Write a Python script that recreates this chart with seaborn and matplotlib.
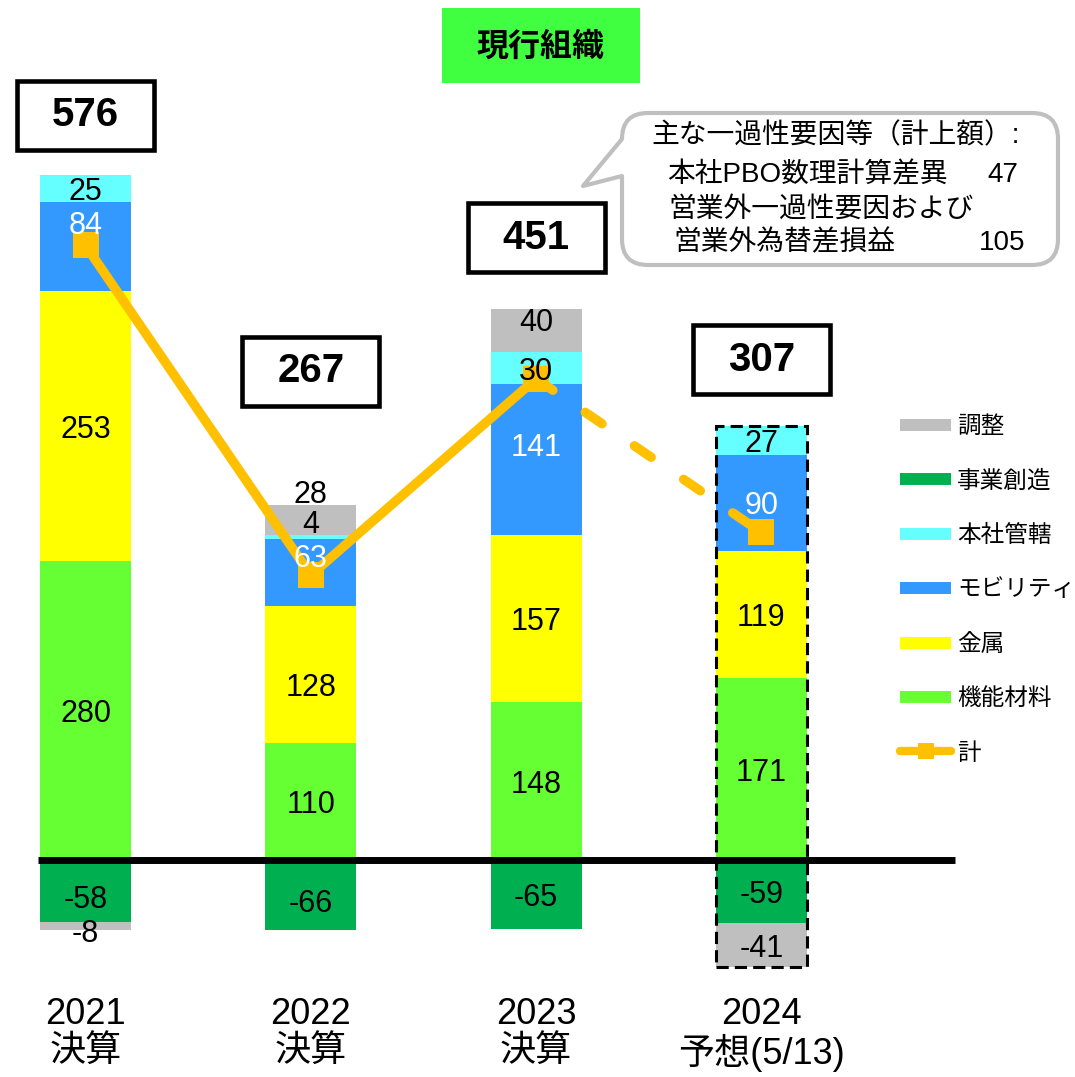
import numpy as np
import pandas as pd
import matplotlib
matplotlib.use("Agg")
import matplotlib.pyplot as plt
import seaborn as sns
from matplotlib.patches import Rectangle, PathPatch
from matplotlib.path import Path
from matplotlib.lines import Line2D

# ---- data -------------------------------------------------------------
years = ["2021\n決算", "2022\n決算", "2023\n決算", "2024\n予想(5/13)"]
functional_materials = [280, 110, 148, 171]   # 機能材料
metals = [253, 128, 157, 119]                 # 金属
mobility = [84, 63, 141, 90]                  # モビリティ
headquarters = [25, 4, 30, 27]                # 本社管轄
new_business = [-58, -66, -65, -59]           # 事業創造
adjustment = [-8, 28, 40, -41]                # 調整
totals = [576, 267, 451, 307]                 # 計

series = [
    ("機能材料", functional_materials, "#66FF33", "black"),
    ("金属", metals, "#FFFF00", "black"),
    ("モビリティ", mobility, "#3399FF", "white"),
    ("本社管轄", headquarters, "#66FFFF", "black"),
    ("事業創造", new_business, "#00B050", "black"),
    ("調整", adjustment, "#BFBFBF", "black"),
]
legend_order = ["調整", "事業創造", "本社管轄", "モビリティ", "金属", "機能材料"]
total_color = "#FFC000"

note_title = "主な一過性要因等（計上額）:"
note_items = [("本社PBO数理計算差異", "47"),
              ("営業外一過性要因および", ""),
              ("営業外為替差損益", "105")]

# ---- style ------------------------------------------------------------
sns.set_theme(style="white")
plt.rcParams["font.family"] = ["Liberation Sans", "Noto Sans CJK JP", "DejaVu Sans"]
plt.rcParams["text.color"] = "black"
plt.rcParams["xtick.color"] = "black"

W, H = 1075, 1077
fig = plt.figure(figsize=(W / 100, H / 100), dpi=100)
ax = fig.add_axes([0, 92 / H, 1, 985 / H])


def fp(x, y):
    """pixel position (from top-left) -> figure fraction"""
    return (x / W, 1 - y / H)


# ---- stacked bars -----------------------------------------------------
n = len(years)
pos_cum = np.zeros(n)
neg_cum = np.zeros(n)
bar_w = 0.404
label_nudge = {("モビリティ", 0): 23, ("調整", 1): 27, ("本社管轄", 1): 14,
               ("モビリティ", 1): 16, ("調整", 2): 11, ("モビリティ", 2): 14,
               ("事業創造", 0): -5, ("事業創造", 1): -5, ("調整", 0): -4,
               ("金属", 1): -9}
labels_to_draw = []
for name, vals, col, tcol in series:
    vals = np.asarray(vals, dtype=float)
    bottoms = np.where(vals >= 0, pos_cum, neg_cum)
    df = pd.DataFrame({"year": years, "value": vals})
    sns.barplot(data=df, x="year", y="value", color=col, saturation=1,
                width=bar_w, errorbar=None, bottom=bottoms, linewidth=0,
                ax=ax, zorder=1)
    for i, v in enumerate(vals):
        yc = bottoms[i] + v / 2 + label_nudge.get((name, i), 0) - 3.5
        labels_to_draw.append((i, yc, f"{int(v)}", tcol))
    pos_cum = np.where(vals >= 0, pos_cum + vals, pos_cum)
    neg_cum = np.where(vals < 0, neg_cum + vals, neg_cum)

for i, yc, txt, tcol in labels_to_draw:
    ax.text(i, yc, txt, ha="center", va="center", fontsize=22, color=tcol,
            zorder=6)

# zero line
ax.hlines(0, -0.211, 3.859, color="black", lw=5, zorder=4)

# forecast bar outline
ax.add_patch(Rectangle((3 - bar_w / 2, neg_cum[3]), bar_w, pos_cum[3] - neg_cum[3],
                       fill=False, edgecolor="black", lw=2.2,
                       linestyle=(0, (4, 2)), zorder=4.5))

# ---- total line -------------------------------------------------------
xs = np.arange(n)
sns.lineplot(x=xs[:3], y=totals[:3], color=total_color, lw=6.8, sort=False,
             estimator=None, solid_capstyle="round", ax=ax, zorder=3)
sns.lineplot(x=xs[2:], y=totals[2:], color=total_color, lw=6.8, sort=False,
             estimator=None, linestyle=(0, (2.15, 4.15)),
             dash_capstyle="round", ax=ax, zorder=3)
ax.plot(xs, totals, ls="none", marker="s", ms=19.4, mew=0, color=total_color,
        zorder=3.5)

# total boxes
box_lift = [56, 125, 67, 62]
bw, bh = 137 / 225.3, 69 / 1.067
for i in range(n):
    yc = pos_cum[i] + box_lift[i]
    ax.add_patch(Rectangle((i - bw / 2, yc - bh / 2), bw, bh, facecolor="white",
                           edgecolor="black", lw=3.3, zorder=7, clip_on=False))
    ax.text(i, yc, f"{totals[i]}", ha="center", va="center", fontsize=29,
            fontweight="bold", zorder=8)

# ---- axes -------------------------------------------------------------
ax.set_xlim(-85.5 / 225.3, (W - 85.5) / 225.3)
ax.set_ylim(-125 / 1.067, 860 / 1.067)
ax.set_xticks(range(n))
ax.set_xticklabels(years, fontsize=26, linespacing=1.05)
ax.tick_params(axis="x", length=0, pad=9)
ax.set_yticks([])
ax.set_xlabel("")
ax.set_ylabel("")
for s in ax.spines.values():
    s.set_visible(False)
ax.patch.set_alpha(0)

# ---- legend -----------------------------------------------------------
colors = {name: col for name, _, col, _ in series}
handles = [Line2D([], [], color=colors[nm], lw=8.6, solid_capstyle="butt")
           for nm in legend_order]
handles.append(Line2D([], [], color=total_color, lw=6, solid_capstyle="round",
                      marker="s", ms=11.5, mew=0))
ax.legend(handles, legend_order + ["計"], loc="upper left",
          bbox_to_anchor=fp(900, 416), bbox_transform=fig.transFigure,
          frameon=False, fontsize=17, borderpad=0, borderaxespad=0,
          handlelength=2.16, handletextpad=0.25, labelspacing=1.37)

# ---- title badge ------------------------------------------------------
fig.add_artist(Rectangle(fp(442, 83), 198 / W, 75 / H, transform=fig.transFigure,
                         facecolor="#40FF40", edgecolor="none"))
fig.text(*fp(541, 47), "現行組織", ha="center", va="center", fontsize=23,
         fontweight="bold")

# ---- callout ----------------------------------------------------------
L, R, T, B, r = 622, 1058, 113, 265, 26
verts = [(L + r, T), (R - r, T), (R, T), (R, T + r), (R, B - r), (R, B),
         (R - r, B), (L + r, B), (L, B), (L, B - r), (L, 176), (583, 186),
         (L, T + r), (L, T), (L + r, T), (L + r, T)]
codes = [Path.MOVETO, Path.LINETO, Path.CURVE3, Path.CURVE3, Path.LINETO,
         Path.CURVE3, Path.CURVE3, Path.LINETO, Path.CURVE3, Path.CURVE3,
         Path.LINETO, Path.LINETO, Path.LINETO, Path.CURVE3, Path.CURVE3,
         Path.CLOSEPOLY]
fig.add_artist(PathPatch(Path([fp(x, y) for x, y in verts], codes),
                         transform=fig.transFigure, facecolor="white",
                         edgecolor="#BFBFBF", lw=3, joinstyle="round"))
fig.text(*fp(651, 136), note_title, ha="left", va="center", fontsize=20)
item_pos = [(667, 175, 1018), (668, 210, 0), (673, 243, 1025)]
for (txt, val), (x0, y0, xr) in zip(note_items, item_pos):
    fig.text(*fp(x0, y0), txt, ha="left", va="center", fontsize=20)
    if val:
        fig.text(*fp(xr, y0), val, ha="right", va="center", fontsize=20)

fig.savefig("out.png", dpi=100)
